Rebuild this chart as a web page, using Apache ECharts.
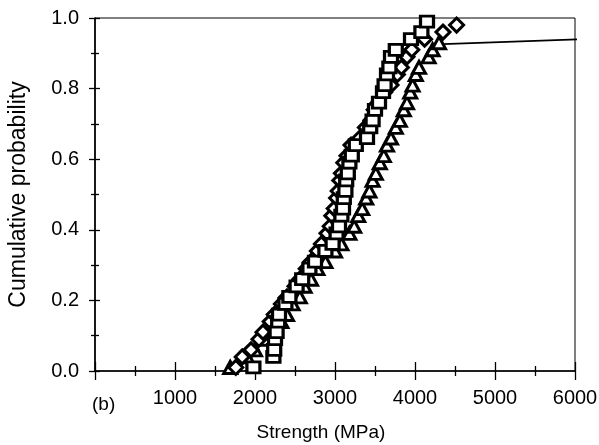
<!DOCTYPE html>
<html>
<head>
<meta charset="utf-8">
<script src="https://cdn.jsdelivr.net/npm/echarts@6/dist/echarts.min.js"></script>
<style>
  html, body { margin: 0; padding: 0; background: #fff; }
  #chart { width: 599px; height: 445px; }
</style>
</head>
<body>
<div id="chart"></div>
<script>
// Cumulative probability of fibre strength (MPa) for three specimen groups
const probSquare = [0.01, 0.04, 0.06, 0.09, 0.11, 0.14, 0.16, 0.19, 0.21, 0.24,
  0.26, 0.29, 0.31, 0.34, 0.36, 0.39, 0.41, 0.44, 0.46, 0.49,
  0.51, 0.54, 0.56, 0.59, 0.61, 0.64, 0.66, 0.69, 0.71, 0.74,
  0.76, 0.79, 0.81, 0.84, 0.86, 0.89, 0.91, 0.94, 0.96, 0.99];
const strengthSquare = [1980, 2230, 2240, 2250, 2270, 2290, 2300, 2380, 2430, 2520,
  2590, 2680, 2750, 2880, 2970, 3020, 3050, 3080, 3100, 3110,
  3130, 3140, 3160, 3180, 3210, 3260, 3400, 3440, 3470, 3500,
  3550, 3600, 3620, 3650, 3680, 3700, 3760, 3950, 4080, 4150];

const probDiamond = [0.01, 0.04, 0.06, 0.09, 0.11, 0.14, 0.16, 0.19, 0.21, 0.24,
  0.26, 0.29, 0.31, 0.34, 0.36, 0.39, 0.41, 0.44, 0.46, 0.49,
  0.51, 0.54, 0.56, 0.59, 0.61, 0.64, 0.66, 0.69, 0.71, 0.74,
  0.76, 0.79, 0.81, 0.84, 0.86, 0.89, 0.91, 0.94, 0.96, 0.98];
const strengthDiamond = [1760, 1840, 1950, 2050, 2100, 2190, 2240, 2330, 2400, 2500,
  2560, 2640, 2700, 2780, 2830, 2900, 2940, 2960, 2990, 3020,
  3040, 3060, 3080, 3110, 3150, 3200, 3310, 3380, 3450, 3490,
  3540, 3620, 3700, 3780, 3830, 3900, 3960, 4120, 4350, 4520];

const probTriangle = [0.01, 0.04, 0.06, 0.09, 0.11, 0.14, 0.16, 0.19, 0.21, 0.24,
  0.26, 0.29, 0.31, 0.34, 0.36, 0.39, 0.41, 0.44, 0.46, 0.49,
  0.51, 0.54, 0.56, 0.59, 0.61, 0.64, 0.66, 0.69, 0.71, 0.74,
  0.76, 0.79, 0.81, 0.84, 0.86, 0.89, 0.91, 0.93];
const strengthTriangle = [1690, 1900, 2000, 2150, 2230, 2330, 2400, 2470, 2560, 2620,
  2700, 2780, 2880, 3000, 3080, 3180, 3240, 3290, 3340, 3390,
  3430, 3470, 3510, 3560, 3610, 3650, 3700, 3760, 3810, 3860,
  3900, 3940, 3970, 4010, 4050, 4170, 4220, 4300];

// Straight trace leaving the top of the triangle group
const traceStrength = [4350, 6100];
const traceProb = [0.926, 0.94];

// Axis ticks
const xTicks = [0, 1000, 2000, 3000, 4000, 5000, 6000];
const yTicks = [0.0, 0.2, 0.4, 0.6, 0.8, 1.0];

const pairs = (xs, ys) => xs.map((x, i) => [x, ys[i]]);

const FONT = 'Liberation Sans';
const chart = echarts.init(document.getElementById('chart'));

const xBase = {
  type: 'value', min: xTicks[0], max: xTicks[xTicks.length - 1],
  interval: xTicks[1] - xTicks[0], position: 'bottom',
  splitLine: { show: false }
};
const yBase = {
  type: 'value', min: yTicks[0], max: yTicks[yTicks.length - 1],
  interval: yTicks[1] - yTicks[0], position: 'left',
  splitLine: { show: false }
};

const markerStyle = { color: '#fff', borderColor: '#000', borderWidth: 3, opacity: 1 };
const tickLine = { color: '#000', width: 1.3 };

chart.setOption({
  animation: false,
  backgroundColor: '#fff',
  grid: {
    left: 95, right: 24, top: 18, bottom: 74,
    containLabel: false, outerBoundsMode: 'none',
    show: true, borderColor: '#000', borderWidth: 1, backgroundColor: 'transparent'
  },
  xAxis: [
    Object.assign({}, xBase, {
      axisLine: { show: true, lineStyle: { color: '#000', width: 1.6 } },
      axisTick: { show: true, inside: false, length: 9, lineStyle: tickLine },
      minorTick: { show: true, splitNumber: 2, length: 5, lineStyle: tickLine },
      axisLabel: {
        show: true, margin: 17, color: '#000', fontFamily: FONT, fontSize: 20,
        formatter: v => (v === 0 ? '' : String(v))
      },
      name: 'Strength (MPa)', nameLocation: 'middle', nameGap: 52,
      nameTextStyle: { color: '#000', fontFamily: FONT, fontSize: 19, padding: [0, 28, 0, 0] }
    }),
    Object.assign({}, xBase, {
      axisLine: { show: false },
      axisTick: { show: true, inside: true, length: 9, lineStyle: tickLine },
      minorTick: { show: true, splitNumber: 2, length: 5, lineStyle: tickLine },
      axisLabel: { show: false }
    })
  ],
  yAxis: [
    Object.assign({}, yBase, {
      axisLine: { show: true, lineStyle: { color: '#000', width: 1.6 } },
      axisTick: { show: true, inside: false, length: 6, lineStyle: tickLine },
      minorTick: { show: true, splitNumber: 2, length: 4, lineStyle: tickLine },
      axisLabel: {
        show: true, margin: 16, color: '#000', fontFamily: FONT, fontSize: 20,
        formatter: v => v.toFixed(1)
      },
      name: 'Cumulative probability', nameLocation: 'middle', nameGap: 65,
      nameTextStyle: { color: '#000', fontFamily: FONT, fontSize: 23 }
    }),
    Object.assign({}, yBase, {
      axisLine: { show: false },
      axisTick: { show: true, inside: true, length: 5, lineStyle: tickLine },
      minorTick: { show: true, splitNumber: 2, length: 4, lineStyle: tickLine },
      axisLabel: { show: false }
    })
  ],
  graphic: [{
    type: 'text', left: 92, top: 395,
    style: { text: '(b)', fill: '#000', font: '19px "Liberation Sans"' }
  }],
  series: [
    {
      type: 'line', xAxisIndex: 0, yAxisIndex: 0,
      data: pairs(traceStrength, traceProb),
      clip: false, symbol: 'none',
      lineStyle: { color: '#000', width: 1.8 }, z: 1
    },
    {
      type: 'scatter', xAxisIndex: 0, yAxisIndex: 0,
      data: pairs(strengthTriangle, probTriangle),
      symbol: 'triangle', symbolSize: [13, 12], itemStyle: markerStyle, z: 2
    },
    {
      type: 'scatter', xAxisIndex: 0, yAxisIndex: 0,
      data: pairs(strengthDiamond, probDiamond),
      symbol: 'diamond', symbolSize: [14, 14], itemStyle: markerStyle, z: 3
    },
    {
      type: 'scatter', xAxisIndex: 0, yAxisIndex: 0,
      data: pairs(strengthSquare, probSquare),
      symbol: 'rect', symbolSize: [13, 11], itemStyle: markerStyle, z: 4
    }
  ]
});
</script>
</body>
</html>
